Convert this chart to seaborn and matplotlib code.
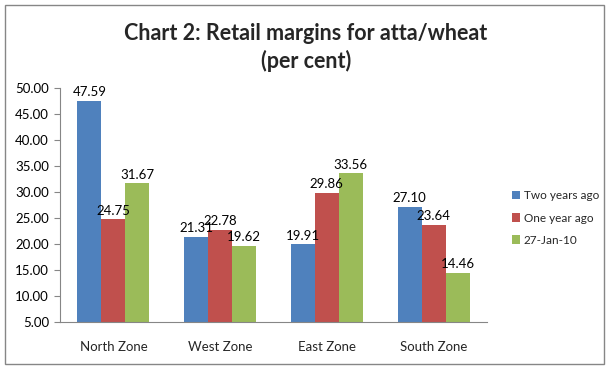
import matplotlib
matplotlib.use("Agg")
import matplotlib.pyplot as plt
import seaborn as sns
import pandas as pd
from matplotlib.patches import Rectangle

zones = ["North Zone", "West Zone", "East Zone", "South Zone"]
series = ["Two years ago", "One year ago", "27-Jan-10"]
two_years_ago = [47.59, 21.31, 19.91, 27.10]
one_year_ago = [24.75, 22.78, 29.86, 23.64]
jan_10 = [31.67, 19.62, 33.56, 14.46]
colors = ["#4F81BD", "#C0504D", "#9BBB59"]
yticks = [5, 10, 15, 20, 25, 30, 35, 40, 45, 50]

df = pd.DataFrame({
    "zone": zones * 3,
    "series": [series[0]] * 4 + [series[1]] * 4 + [series[2]] * 4,
    "value": two_years_ago + one_year_ago + jan_10,
})

sns.set_theme(style="white")
plt.rcParams["font.family"] = ["Lato", "DejaVu Sans"]

fig = plt.figure(figsize=(6.1, 3.68), dpi=100)
ax = fig.add_axes([60 / 610, 1 - 322 / 368, 427 / 610, (322 - 88) / 368])

sns.barplot(data=df, x="zone", y="value", hue="series", order=zones,
            hue_order=series, palette=colors, width=0.675, gap=0,
            saturation=1, linewidth=0, ax=ax, legend=True)

ax.set_ylim(5, 50)
ax.set_xlim(-0.5, 3.5)
ax.set_yticks(yticks)
ax.set_yticklabels([f"{v:.2f}" for v in yticks], fontsize=9.5, color="#000000")
ax.set_xticks(range(len(zones)))
ax.set_xticklabels(zones, fontsize=9.5)
ax.set_xticks([-0.5, 0.5, 1.5, 2.5, 3.5], minor=True)
ax.tick_params(axis="x", which="major", length=0, pad=14)
ax.tick_params(axis="x", which="minor", length=4, width=0.8, color="#868686", direction="out")
ax.tick_params(axis="y", which="major", length=4, width=0.8, color="#868686", direction="out", left=True, pad=4)
ax.set_xlabel("")
ax.set_ylabel("")
for s in ["top", "right"]:
    ax.spines[s].set_visible(False)
for s in ["left", "bottom"]:
    ax.spines[s].set_color("#868686")
    ax.spines[s].set_linewidth(0.8)

for cont in ax.containers:
    ax.bar_label(cont, labels=[f"{v:.2f}" for v in cont.datavalues],
                 padding=2, fontsize=9.5, color="#000000")

handles, labels = ax.get_legend_handles_labels()
ax.legend(handles, labels, loc="center left", bbox_to_anchor=(512 / 610, 1 - 218 / 368),
          bbox_transform=fig.transFigure, frameon=False, fontsize=8.5,
          handlelength=0.7, handleheight=0.7, handletextpad=0.3, labelspacing=0.95,
          borderaxespad=0, borderpad=0)

fig.text(306 / 610, 1 - 33 / 368, "Chart 2: Retail margins for atta/wheat", ha="center",
         va="center", fontsize=15.5, fontweight="bold")
fig.text(306 / 610, 1 - 61 / 368, "(per cent)", ha="center", va="center",
         fontsize=15.5, fontweight="bold")

fig.patches.append(Rectangle((5 / 610, 1 - 364 / 368), 599 / 610, 359 / 368,
                             transform=fig.transFigure, fill=False,
                             edgecolor="#868686", linewidth=1.0))

fig.savefig("out.png", dpi=100)
